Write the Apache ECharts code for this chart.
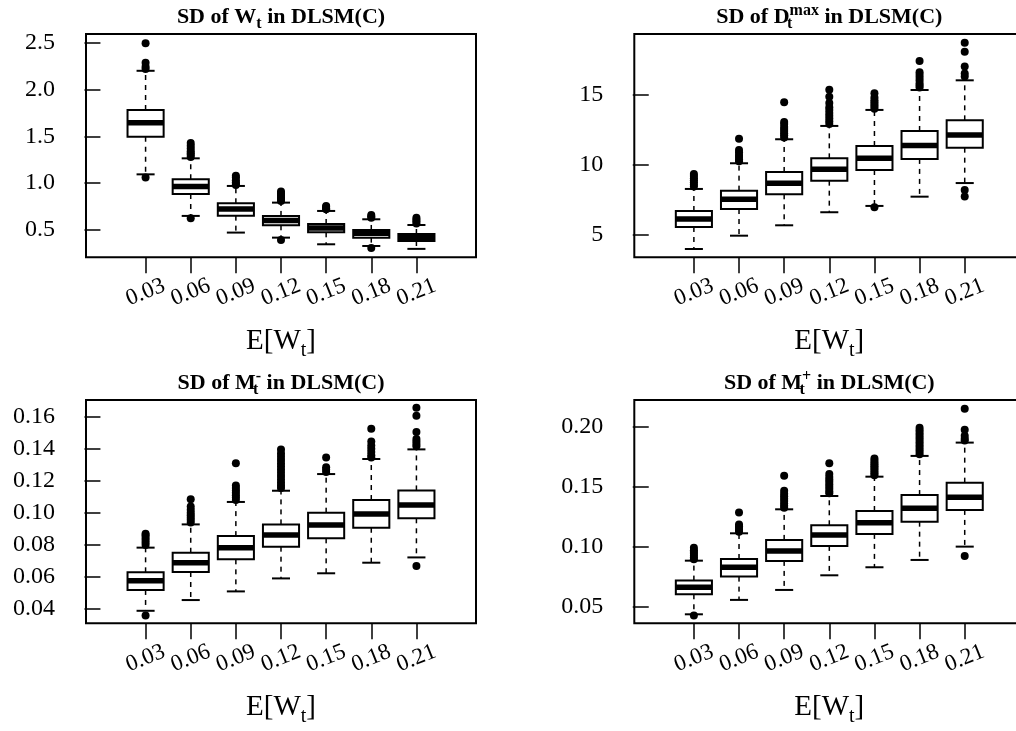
<!DOCTYPE html>
<html><head><meta charset="utf-8">
<script src="https://cdn.jsdelivr.net/npm/echarts@6/dist/echarts.min.js"></script>
<style>html,body{margin:0;padding:0;background:#fff}#c{width:1016px;height:731px}</style>
</head><body><div id="c"></div>
<script>
// ---- data ----
const categories = ['0.03', '0.06', '0.09', '0.12', '0.15', '0.18', '0.21'];
const xTickPos = [1, 2, 3, 4, 5, 6, 7];

// box stats per category: [lower whisker, Q1, median, Q3, upper whisker]
const wStats = [
  [1.094, 1.496, 1.646, 1.781, 2.200],
  [0.650, 0.884, 0.963, 1.041, 1.265],
  [0.472, 0.653, 0.724, 0.785, 0.970],
  [0.418, 0.550, 0.600, 0.650, 0.792],
  [0.347, 0.475, 0.521, 0.564, 0.703],
  [0.329, 0.418, 0.465, 0.500, 0.614],
  [0.298, 0.382, 0.420, 0.457, 0.553]
];
const wOut = [
  [2.22, 2.244, 2.286, 2.493, 1.059],
  [1.28, 1.30, 1.32, 1.34, 1.37, 1.40, 1.43, 0.625],
  [0.98, 0.99, 1.01, 1.03, 1.06, 1.08],
  [0.81, 0.83, 0.85, 0.87, 0.89, 0.91, 0.393],
  [0.72, 0.73, 0.745, 0.755],
  [0.63, 0.645, 0.66, 0.308],
  [0.57, 0.59, 0.61, 0.63]
];
const wTicks = [0.5, 1.0, 1.5, 2.0, 2.5];

const dStats = [
  [4.00, 5.57, 6.14, 6.71, 8.28],
  [4.95, 6.85, 7.54, 8.16, 10.11],
  [5.69, 7.90, 8.68, 9.49, 11.82],
  [6.62, 8.87, 9.68, 10.46, 12.77],
  [7.07, 9.63, 10.46, 11.34, 13.91],
  [7.73, 10.42, 11.37, 12.41, 15.33],
  [8.70, 11.22, 12.13, 13.17, 16.02]
];
const dOut = [
  [8.45, 8.6, 8.75, 8.9, 9.05, 9.2, 9.35],
  [10.25, 10.4, 10.55, 10.7, 10.9, 11.05, 11.85],
  [11.95, 12.1, 12.25, 12.4, 12.55, 12.7, 12.9, 13.05, 14.45],
  [12.9, 13.1, 13.3, 13.5, 13.7, 13.9, 14.1, 14.4, 14.85, 15.35],
  [14.0, 14.15, 14.3, 14.45, 14.6, 14.8, 15.1, 6.97],
  [15.5, 15.65, 15.8, 16.0, 16.2, 16.4, 16.6, 17.4],
  [16.3, 16.5, 17.0, 18.05, 18.7, 8.2, 7.75]
];
const dTicks = [5, 10, 15];

const mMinusStats = [
  [0.0389, 0.0519, 0.0577, 0.0629, 0.0783],
  [0.0456, 0.0631, 0.0689, 0.0751, 0.0928],
  [0.0510, 0.0710, 0.0783, 0.0855, 0.1068],
  [0.0591, 0.0789, 0.0862, 0.0928, 0.1138],
  [0.0623, 0.0841, 0.0924, 0.1001, 0.1242],
  [0.0689, 0.0907, 0.0993, 0.1080, 0.1336],
  [0.0722, 0.0966, 0.1049, 0.1140, 0.1396]
];
const mMinusOut = [
  [0.080, 0.0815, 0.083, 0.0845, 0.086, 0.087, 0.036],
  [0.094, 0.0955, 0.097, 0.0985, 0.100, 0.102, 0.104, 0.1085],
  [0.108, 0.1095, 0.111, 0.1125, 0.114, 0.1155, 0.117, 0.131],
  [0.1155, 0.117, 0.119, 0.121, 0.123, 0.125, 0.127, 0.129, 0.131, 0.133, 0.135, 0.137, 0.1395],
  [0.1255, 0.127, 0.1285, 0.1345],
  [0.1345, 0.136, 0.138, 0.140, 0.142, 0.1445, 0.1525],
  [0.1415, 0.143, 0.1445, 0.146, 0.1505, 0.1605, 0.1655, 0.0668]
];
const mMinusTicks = [0.04, 0.06, 0.08, 0.10, 0.12, 0.14, 0.16];

const mPlusStats = [
  [0.0436, 0.0603, 0.0661, 0.0717, 0.0883],
  [0.0556, 0.0750, 0.0828, 0.0897, 0.1111],
  [0.0639, 0.0881, 0.0964, 0.1056, 0.1311],
  [0.0761, 0.1006, 0.1097, 0.1178, 0.1422],
  [0.0828, 0.1106, 0.1200, 0.1297, 0.1583],
  [0.0889, 0.1208, 0.1319, 0.1430, 0.1756],
  [0.1000, 0.1306, 0.1411, 0.1533, 0.1867]
];
const mPlusOut = [
  [0.0895, 0.091, 0.0925, 0.094, 0.0955, 0.097, 0.099, 0.0425],
  [0.1125, 0.114, 0.1155, 0.117, 0.1185, 0.1285],
  [0.1325, 0.134, 0.136, 0.138, 0.140, 0.142, 0.144, 0.1465, 0.159],
  [0.1445, 0.146, 0.148, 0.150, 0.152, 0.154, 0.156, 0.158, 0.1605, 0.1695],
  [0.1595, 0.161, 0.1625, 0.164, 0.1655, 0.167, 0.1685, 0.170, 0.1715, 0.1735],
  [0.177, 0.179, 0.181, 0.183, 0.185, 0.187, 0.189, 0.191, 0.193, 0.195, 0.197, 0.199],
  [0.1885, 0.190, 0.1925, 0.1975, 0.215, 0.0922]
];
const mPlusTicks = [0.05, 0.10, 0.15, 0.20];

// ---- layout / style ----
const SERIF = 'Liberation Serif';
const panels = [
  { stats: wStats, out: wOut, ticks: wTicks, dec: 1, min: 0.208, max: 2.593, left: 86, top: 34,
    title: '{b|SD of W}{s|t}{b| in DLSM(C)}' },
  { stats: dStats, out: dOut, ticks: dTicks, dec: 0, min: 3.41, max: 19.32, left: 634.3, top: 34,
    title: '{b|SD of D}{s0|t}{p|max}{b| in DLSM(C)}' },
  { stats: mMinusStats, out: mMinusOut, ticks: mMinusTicks, dec: 2, min: 0.0311, max: 0.1704, left: 86, top: 400,
    title: '{b|SD of M}{s0|t}{p|-}{b| in DLSM(C)}' },
  { stats: mPlusStats, out: mPlusOut, ticks: mPlusTicks, dec: 2, min: 0.0361, max: 0.2222, left: 634.3, top: 400,
    title: '{b|SD of M}{s0|t}{p|+}{b| in DLSM(C)}' }
];
const GW = 390, GH = 223.3;

const titleRich = {
  b: { fontFamily: SERIF, fontWeight: 'bold', fontSize: 22, fill: '#000' },
  s: { fontFamily: SERIF, fontWeight: 'bold', fontSize: 16, fill: '#000', padding: [12, 0, 0, 0] },
  s0: { fontFamily: SERIF, fontWeight: 'bold', fontSize: 16, fill: '#000', padding: [12, 0, 0, 0], width: 0 },
  p: { fontFamily: SERIF, fontWeight: 'bold', fontSize: 16, fill: '#000', padding: [0, 0, 14, 0] }
};
const nameRich = {
  n: { fontFamily: SERIF, fontSize: 29, fill: '#000' },
  s: { fontFamily: SERIF, fontSize: 20, fill: '#000', padding: [19, 0, 0, 0] }
};

function renderBox(params, api) {
  const x = api.value(0);
  const pLo = api.coord([x, api.value(1)]);
  const pQ1 = api.coord([x, api.value(2)]);
  const pMed = api.coord([x, api.value(3)]);
  const pQ3 = api.coord([x, api.value(4)]);
  const pHi = api.coord([x, api.value(5)]);
  const hw = api.size([0.8, 0])[0] / 2;
  const sw = hw / 2;
  const cx = pLo[0];
  const dash = { stroke: '#000', lineWidth: 1.5, lineDash: [5, 5] };
  const solid = { stroke: '#000', lineWidth: 2 };
  return {
    type: 'group',
    children: [
      { type: 'line', shape: { x1: cx, y1: pQ1[1], x2: cx, y2: pLo[1] }, style: dash },
      { type: 'line', shape: { x1: cx, y1: pQ3[1], x2: cx, y2: pHi[1] }, style: dash },
      { type: 'line', shape: { x1: cx - sw, y1: pLo[1], x2: cx + sw, y2: pLo[1] }, style: solid },
      { type: 'line', shape: { x1: cx - sw, y1: pHi[1], x2: cx + sw, y2: pHi[1] }, style: solid },
      { type: 'rect', shape: { x: cx - hw, y: pQ3[1], width: 2 * hw, height: pQ1[1] - pQ3[1] },
        style: { fill: '#fff', stroke: '#000', lineWidth: 2 } },
      { type: 'line', shape: { x1: cx - hw, y1: pMed[1], x2: cx + hw, y2: pMed[1] },
        style: { stroke: '#000', lineWidth: 5.5 } }
    ]
  };
}

const grid = [], xAxis = [], yAxis = [], series = [], graphic = [];
panels.forEach((p, i) => {
  grid.push({ left: p.left, top: p.top, width: GW, height: GH, show: true,
    borderColor: '#000', borderWidth: 2, backgroundColor: 'transparent',
    containLabel: false, outerBoundsMode: 'none' });
  xAxis.push({
    type: 'value', gridIndex: i, min: -0.32, max: 8.32,
    axisLine: { show: false }, splitLine: { show: false },
    axisTick: { show: true, length: 16, customValues: xTickPos, lineStyle: { color: '#000', width: 1.5 } },
    axisLabel: { show: true, customValues: xTickPos, rotate: 22, align: 'center', verticalAlign: 'middle',
      margin: 35, color: '#000', fontFamily: SERIF, fontSize: 23,
      formatter: v => categories[Math.round(v) - 1] || '' }
  });
  yAxis.push({
    type: 'value', gridIndex: i, min: p.min, max: p.max,
    axisLine: { show: false }, splitLine: { show: false },
    axisTick: { show: true, length: 16, customValues: p.ticks, lineStyle: { color: '#000', width: 1.5 } },
    axisLabel: { show: true, customValues: p.ticks, margin: 31, color: '#000', fontFamily: SERIF, fontSize: 24,
      formatter: v => Number(v).toFixed(p.dec) }
  });
  series.push({
    type: 'custom', xAxisIndex: i, yAxisIndex: i, renderItem: renderBox, z: 2,
    encode: { x: 0, y: [1, 2, 3, 4, 5] },
    data: p.stats.map((s, k) => [xTickPos[k]].concat(s))
  });
  const pts = [];
  p.out.forEach((arr, k) => arr.forEach(v => pts.push([xTickPos[k], v])));
  series.push({
    type: 'scatter', xAxisIndex: i, yAxisIndex: i, z: 3, symbol: 'circle', symbolSize: 8,
    itemStyle: { color: '#000', opacity: 1 }, data: pts
  });
  const cx = p.left + GW / 2;
  graphic.push({ type: 'text', x: cx, y: p.top - 16.5,
    style: { text: p.title, rich: titleRich, align: 'center', verticalAlign: 'middle' } });
  graphic.push({ type: 'text', x: cx, y: p.top + GH + 84,
    style: { text: '{n|E[W}{s|t}{n|]}', rich: nameRich, align: 'center', verticalAlign: 'middle' } });
});

const chart = echarts.init(document.getElementById('c'), null, { renderer: 'canvas' });
chart.setOption({ animation: false, backgroundColor: '#fff', grid, xAxis, yAxis, series, graphic });
</script>
</body></html>
